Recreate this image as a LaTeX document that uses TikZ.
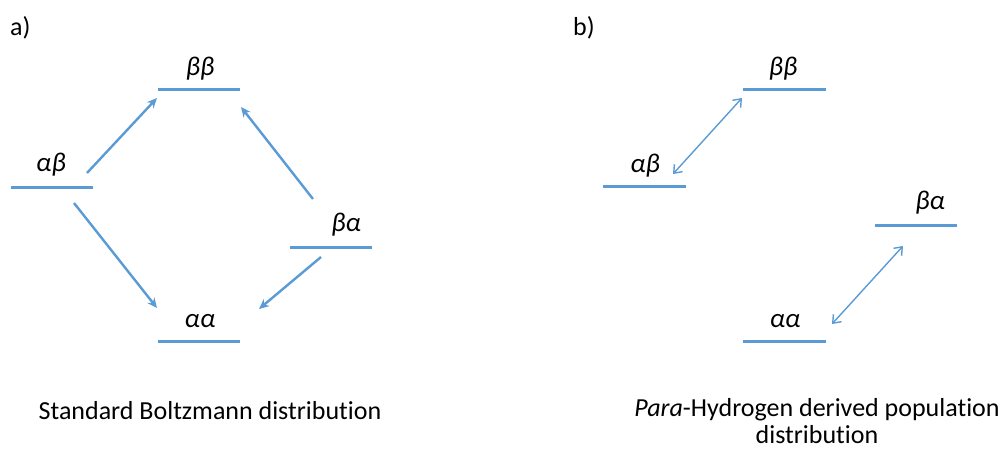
\documentclass[tikz,border=0pt]{standalone}
\usepackage{fontspec}
\setmainfont[Ligatures={NoCommon}]{Carlito}
\usepackage{tikz}
\usetikzlibrary{arrows.meta,positioning}
\definecolor{lineblue}{HTML}{5B9BD5}

\begin{document}
\begin{tikzpicture}[x=1pt,y=-1pt,
    state/.style={font=\fontsize{27}{31}\selectfont\itshape, inner sep=0pt},
    caption/.style={font=\fontsize{26}{27}\selectfont, align=center, inner sep=0pt},
    relax/.style={-{Stealth[length=10pt,width=9pt]}, line width=2.4pt, color=lineblue},
    swap/.style={{Straight Barb[length=7pt,width=11pt]}-{Straight Barb[length=7pt,width=11pt]}, line width=1.4pt, color=lineblue}
]
\useasboundingbox (0,0) rectangle (1003,448);

% a) Boltzmann
\node[caption, anchor=west] (la) at (10,28) {a)};
\draw[lineblue, line width=3pt] (158,89) -- (240,89);
\draw[lineblue, line width=3pt] (11,187) -- (93,187);
\draw[lineblue, line width=3pt] (290,247) -- (372,247);
\draw[lineblue, line width=3pt] (158,341) -- (240,341);
\node[state] (bbA) at (200,69) {ββ};
\node[state] (abA) at (51,165) {αβ};
\node[state] (baA) at (346,225) {βα};
\node[state] (aaA) at (200,321) {αα};

\coordinate (a1) at (87,173);  \coordinate (a2) at (157,98);
\coordinate (a3) at (313,199); \coordinate (a4) at (241,107);
\coordinate (a5) at (74,203);  \coordinate (a6) at (157,308);
\coordinate (a7) at (321,257); \coordinate (a8) at (259,309);
\draw[relax] (a1) -- (a2);
\draw[relax] (a3) -- (a4);
\draw[relax] (a5) -- (a6);
\draw[relax] (a7) -- (a8);

\node[caption] (capA) at (210,411) {Standard Boltzmann distribution};

% b) para-hydrogen
\node[caption, anchor=west] (lb) at (573,28) {b)};
\draw[lineblue, line width=3pt] (743,89) -- (826,89);
\draw[lineblue, line width=3pt] (603,186) -- (686,186);
\draw[lineblue, line width=3pt] (875,225) -- (957,225);
\draw[lineblue, line width=3pt] (743,341) -- (826,341);
\node[state] (bbB) at (783,69) {ββ};
\node[state] (abB) at (645,166) {αβ};
\node[state] (baB) at (930,203) {βα};
\node[state] (aaB) at (785,321) {αα};

\coordinate (b1) at (673,174); \coordinate (b2) at (742,98);
\coordinate (b3) at (832,324); \coordinate (b4) at (903,246);
\draw[swap] (b1) -- (b2);
\draw[swap] (b3) -- (b4);

\node[caption] (capB) at (817,421) {\textit{Para}-Hydrogen derived population\\distribution};

\end{tikzpicture}
\end{document}
